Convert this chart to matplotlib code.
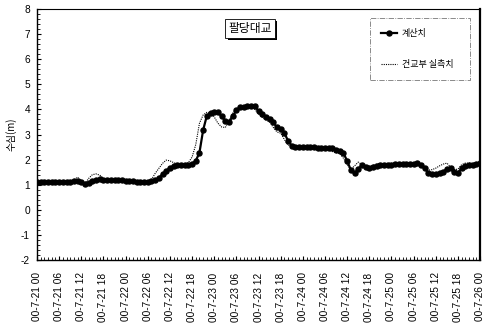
import matplotlib
matplotlib.use("Agg")
import matplotlib.pyplot as plt
import matplotlib.patheffects as pe
from matplotlib.ticker import MultipleLocator, FixedLocator

plt.rcParams['font.family'] = ['Liberation Sans', 'Noto Sans CJK KR']
plt.rcParams['axes.unicode_minus'] = False

# hourly water depth (m), 2000-07-21 00h .. 2000-07-26 00h
hours = list(range(121))

computed = [
    1.12, 1.12, 1.12, 1.12, 1.12, 1.12, 1.12, 1.12, 1.12, 1.12,
    1.13, 1.15, 1.10, 1.03, 1.08, 1.15, 1.19, 1.21, 1.20, 1.19,
    1.18, 1.18, 1.17, 1.17, 1.15, 1.13, 1.13, 1.12, 1.12, 1.12,
    1.12, 1.13, 1.18, 1.27, 1.42, 1.55, 1.68, 1.75, 1.78, 1.78,
    1.79, 1.80, 1.84, 1.95, 2.28, 3.18, 3.75, 3.86, 3.88, 3.90,
    3.72, 3.55, 3.50, 3.72, 3.98, 4.08, 4.11, 4.13, 4.14, 4.12,
    3.94, 3.80, 3.70, 3.62, 3.48, 3.28, 3.20, 3.05, 2.75, 2.55,
    2.52, 2.50, 2.50, 2.50, 2.49, 2.49, 2.48, 2.48, 2.48, 2.47,
    2.45, 2.40, 2.36, 2.25, 1.95, 1.58, 1.45, 1.62, 1.78, 1.70,
    1.67, 1.70, 1.76, 1.78, 1.79, 1.80, 1.80, 1.81, 1.82, 1.83,
    1.83, 1.84, 1.84, 1.85, 1.80, 1.65, 1.47, 1.42, 1.42, 1.46,
    1.52, 1.62, 1.65, 1.50, 1.48, 1.65, 1.75, 1.78, 1.80, 1.84,
    1.85,
]

observed = [
    1.12, 1.12, 1.12, 1.12, 1.12, 1.12, 1.12, 1.12, 1.12, 1.13,
    1.18, 1.30, 1.12, 1.05, 1.25, 1.40, 1.43, 1.38, 1.25, 1.20,
    1.18, 1.17, 1.17, 1.16, 1.15, 1.13, 1.13, 1.12, 1.12, 1.12,
    1.13, 1.20, 1.45, 1.65, 1.85, 1.98, 1.95, 1.88, 1.82, 1.80,
    1.82, 1.88, 2.10, 2.60, 3.45, 3.78, 3.88, 3.88, 3.70, 3.45,
    3.30, 3.28, 3.55, 3.85, 4.02, 4.05, 4.07, 4.08, 4.08, 4.00,
    3.82, 3.68, 3.58, 3.50, 3.28, 3.10, 3.05, 2.80, 2.58, 2.50,
    2.48, 2.47, 2.47, 2.46, 2.46, 2.45, 2.45, 2.44, 2.42, 2.38,
    2.32, 2.28, 2.25, 2.05, 1.80, 1.60, 1.75, 1.90, 1.80, 1.70,
    1.72, 1.78, 1.83, 1.84, 1.84, 1.85, 1.85, 1.86, 1.86, 1.86,
    1.87, 1.87, 1.86, 1.85, 1.72, 1.62, 1.58, 1.60, 1.66, 1.75,
    1.82, 1.86, 1.70, 1.60, 1.62, 1.80, 1.86, 1.86, 1.86, 1.86,
    1.86,
]

tick_hours = list(range(0, 121, 6))
tick_labels = [
    "00-7-21 00", "00-7-21 06", "00-7-21 12", "00-7-21 18",
    "00-7-22 00", "00-7-22 06", "00-7-22 12", "00-7-22 18",
    "00-7-23 00", "00-7-23 06", "00-7-23 12", "00-7-23 18",
    "00-7-24 00", "00-7-24 06", "00-7-24 12", "00-7-24 18",
    "00-7-25 00", "00-7-25 06", "00-7-25 12", "00-7-25 18",
    "00-7-26 00",
]

fig = plt.figure(figsize=(4.84, 3.35), dpi=100)
ax = fig.add_axes([0.0764, 0.224, 0.9156, 0.749])

ax.plot(hours, observed, color='black', linestyle=(0, (1, 1)), linewidth=0.8,
        label='건교부 실측치', zorder=2)
ax.plot(hours, computed, color='black', linestyle='-', linewidth=1.6,
        marker='o', markersize=3.6, label='계산치', zorder=3)

ax.set_xlim(0, 120)
ax.set_ylim(-2, 8)
ax.yaxis.set_major_locator(MultipleLocator(1))
ax.yaxis.set_minor_locator(MultipleLocator(0.2))
ax.xaxis.set_major_locator(FixedLocator(tick_hours))
ax.xaxis.set_minor_locator(MultipleLocator(1))
ax.set_xticklabels(tick_labels, rotation=90, fontsize=7.3)
ax.tick_params(axis='y', labelsize=7.3)
ax.tick_params(which='major', direction='in', length=3, width=0.8)
ax.tick_params(which='minor', direction='in', length=2, width=0.6)
ax.tick_params(axis='x', which='major', pad=9)
ax.tick_params(axis='y', which='major', pad=5)

for side in ['left', 'bottom']:
    ax.spines[side].set_linewidth(1.0)
ax.spines['top'].set_linewidth(0.8)
ax.spines['right'].set_linewidth(1.6)

ax.set_ylabel('수심(m)', fontsize=7, family=['Noto Sans CJK KR', 'DejaVu Sans'],
              labelpad=3)

title = ax.text(0.481, 0.924, '팔당대교', transform=ax.transAxes, ha='center',
                va='center', fontsize=8.5, family=['Noto Sans CJK KR', 'DejaVu Sans'],
                bbox=dict(boxstyle='square,pad=0.25', facecolor='white',
                          edgecolor='black', linewidth=0.6))
title.get_bbox_patch().set_path_effects([
    pe.SimplePatchShadow(offset=(1.5, -1.5), shadow_rgbFace='black', alpha=1.0),
    pe.Normal(),
])

handles, labels = ax.get_legend_handles_labels()
leg = ax.legend(handles[::-1], labels[::-1], loc='upper left',
                bbox_to_anchor=(0.752, 0.709, 0.225, 0.255), mode='expand',
                prop={'family': ['Noto Sans CJK KR', 'DejaVu Sans'], 'size': 6.5},
                borderpad=1.2, labelspacing=2.5, handlelength=1.8,
                handletextpad=0.5, numpoints=1, fancybox=False,
                borderaxespad=0)
frame = leg.get_frame()
frame.set_edgecolor('#555555')
frame.set_linestyle('-.')
frame.set_linewidth(0.6)

fig.savefig('out.png', dpi=100)
